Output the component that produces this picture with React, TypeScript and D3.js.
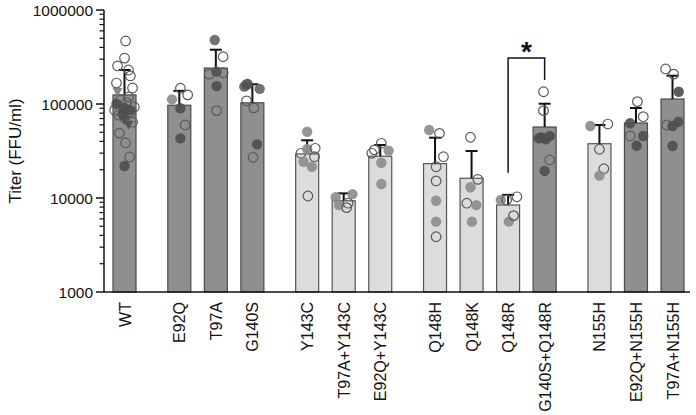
import React from "react";
import * as d3 from "d3";

const categories = ["WT","E92Q","T97A","G140S","Y143C","T97A+Y143C","E92Q+Y143C","Q148H","Q148K","Q148R","G140S+Q148R","N155H","E92Q+N155H","T97A+N155H"];
const groupIndex = [0,1,1,1,2,2,2,3,3,3,3,4,4,4];
const barShade = ["dark","dark","dark","dark","light","light","light","light","light","light","dark","light","dark","dark"];
const means = [125000,97000,241000,103000,29400,9350,27800,23200,16200,8430,56900,37800,62800,113000];
const upperErr = [230000,138000,378000,162000,41100,11200,36600,43800,31600,10800,100700,59800,90600,200000];
// points: [value, jitter offset (slot units), kind]
const points: [number, number, string][][] = [
  [[468000,0.03,"o"],[308000,0,"o"],[254000,-0.19,"o"],[230000,0.11,"o"],[199000,0.16,"o"],[167000,-0.22,"o"],[148000,0.22,"o"],[119000,0.11,"o"],[110000,-0.11,"o"],[103000,0.05,"o"],[93000,0.27,"o"],[86000,-0.27,"o"],[82000,0.16,"o"],[76000,-0.16,"o"],[71000,0,"o"],[64000,0.22,"o"],[49000,-0.14,"o"],[38500,0.03,"o"],[27300,0.14,"o"],[21900,0,"d"],[100000,-0.22,"d"],[91000,0,"d"],[86000,0.16,"d"],[78000,-0.05,"d"],[134000,-0.19,"tg"],[67000,0,"t"],[60000,0.11,"t"]],
  [[112000,-0.2,"g"],[147000,0.03,"o"],[125000,0.23,"o"],[90000,0.03,"d"],[59800,0.16,"o"],[43100,0.03,"d"]],
  [[480000,-0.03,"m"],[318000,0.2,"o"],[208000,-0.18,"o"],[221000,0.02,"d"],[215000,0.2,"o"],[155000,0.02,"d"],[85000,0.02,"o"]],
  [[153000,-0.22,"m"],[163000,-0.13,"d"],[161000,-0.16,"o"],[145000,0.2,"m"],[108000,-0.16,"o"],[91000,0.04,"o"],[37200,0.13,"d"],[27100,0.02,"o"]],
  [[50700,0,"g"],[29900,-0.17,"o"],[33200,0,"g"],[33800,0.22,"o"],[27500,0.2,"o"],[24300,-0.1,"g"],[21500,0.13,"g"],[10500,0.02,"o"]],
  [[10200,-0.22,"g"],[11000,0.24,"g"],[8400,-0.13,"g"],[7900,0.08,"o"],[8800,0.12,"o"]],
  [[29900,-0.23,"o"],[32500,-0.16,"o"],[38200,0.03,"o"],[31900,0.23,"g"],[23700,0.03,"g"],[14100,0.03,"g"]],
  [[52900,-0.16,"g"],[48700,0.12,"o"],[27500,0.23,"o"],[21500,0.03,"o"],[15200,0.03,"o"],[9350,0.03,"g"],[5600,0.03,"g"],[3870,0.03,"o"]],
  [[44300,-0.03,"o"],[15800,0.17,"o"],[13000,-0.03,"g"],[8800,-0.13,"o"],[8400,0.13,"g"],[5600,0.01,"g"]],
  [[9530,-0.2,"g"],[9530,-0.04,"o"],[10300,0.24,"o"],[5600,0.02,"g"],[6490,0.15,"o"]],
  [[135000,-0.03,"o"],[85000,-0.03,"o"],[43100,-0.16,"d"],[42100,0.03,"d"],[45700,0.14,"d"],[44000,-0.09,"d"],[25400,0.14,"o"],[19400,0,"d"]],
  [[58300,-0.25,"g"],[61200,0.23,"o"],[33000,0,"o"],[20500,0.12,"o"],[17300,0,"g"]],
  [[106000,0.04,"o"],[73300,0.2,"o"],[62400,-0.16,"d"],[45700,-0.16,"o"],[45700,0.2,"d"],[36000,0.02,"d"]],
  [[236000,-0.19,"o"],[208000,0.03,"o"],[135000,0.17,"d"],[59800,-0.16,"o"],[58300,0,"d"],[64800,0.16,"d"],[35700,0,"d"]],
];
const yTicks = [1000, 10000, 100000, 1000000];
const sigPair = [9, 10];

export default function App() {
  const W = 696, H = 415;
  const y = d3.scaleLog().domain([1000, 1000000]).range([292, 10]);
  const pos = categories.map((_, i) => i + 0.5 * groupIndex[i]);
  const x = d3.scaleLinear().domain([0, 15]).range([124.5, 672.5]);
  const bw = 23;
  const slot = x(1) - x(0);
  const minor: number[] = [];
  for (let d = 1000; d < 1000000; d *= 10) for (let k = 2; k <= 9; k++) minor.push(d * k);
  const font = "'Liberation Sans', Arial, sans-serif";
  const fillFor = (k: string) => k === "g" ? "#8d8d8d" : k === "m" ? "#666" : k === "tg" ? "#7a7a7a" : "#4f4f4f";
  const tri = (cx: number, cy: number, r: number) => `M${cx - r},${cy - r * 0.8}L${cx + r},${cy - r * 0.8}L${cx},${cy + r}Z`;
  const sx0 = x(pos[sigPair[0]]), sx1 = x(pos[sigPair[1]]);
  return (
    <svg width={W} height={H} style={{ position: "absolute", left: 0, top: 0, background: "#fff" }} fontFamily={font}>
      {categories.map((c, i) => {
        const cx = x(pos[i]);
        return (
          <g key={c}>
            <rect x={cx - bw / 2} y={y(means[i])} width={bw} height={292 - y(means[i])}
              fill={barShade[i] === "dark" ? "#8f8f91" : "#dcdcde"} stroke={barShade[i] === "dark" ? "#4a4a4a" : "#555"} strokeWidth={1.2} />
            <line x1={cx} x2={cx} y1={y(means[i])} y2={y(upperErr[i])} stroke="#111" strokeWidth={2} />
            <line x1={cx - 6} x2={cx + 6} y1={y(upperErr[i])} y2={y(upperErr[i])} stroke="#111" strokeWidth={2} />
            {points[i].map(([v, dx, k], j) => {
              const px = cx + dx * slot, py = y(v);
              if (k === "o") return <circle key={j} cx={px} cy={py} r={4.8} fill="none" stroke="#5a5a5a" strokeWidth={1.2} />;
              if (k === "t" || k === "tg") return <path key={j} d={tri(px, py, 5)} fill={fillFor(k)} opacity={0.9} />;
              return <circle key={j} cx={px} cy={py} r={5.2} fill={fillFor(k)} opacity={0.92} />;
            })}
            <text transform={`translate(${cx + 6},302) rotate(-90)`} textAnchor="end" fontSize={16} fill="#111">{c}</text>
          </g>
        );
      })}
      <line x1={104} x2={104} y1={10} y2={292} stroke="#111" strokeWidth={1.5} />
      <line x1={104} x2={690} y1={292} y2={292} stroke="#111" strokeWidth={1.5} />
      {yTicks.map(t => (
        <g key={t}>
          <line x1={96} x2={104} y1={y(t)} y2={y(t)} stroke="#111" strokeWidth={1.5} />
          <text x={93} y={y(t) + 5.5} textAnchor="end" fontSize={15.5} fill="#111">{t}</text>
        </g>
      ))}
      {minor.map(t => <line key={t} x1={99.5} x2={104} y1={y(t)} y2={y(t)} stroke="#111" strokeWidth={1.2} />)}
      <text transform="translate(21,151) rotate(-90)" textAnchor="middle" fontSize={17} fill="#111">Titer (FFU/ml)</text>
      <path d={`M${sx0},${y(10800) - 22}V58H${sx1}V80`} fill="none" stroke="#111" strokeWidth={1.5} />
      <text x={(sx0 + sx1) / 2} y={61} textAnchor="middle" fontSize={28} fontWeight="bold" fill="#111">*</text>
    </svg>
  );
}
